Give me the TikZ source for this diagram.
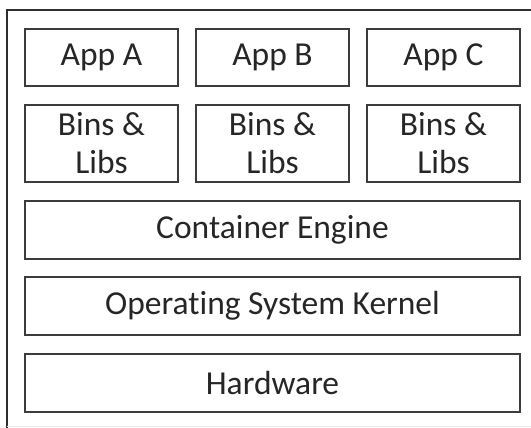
\documentclass[tikz,border=0pt]{standalone}
\usepackage{fontspec}
\setmainfont{Carlito}[Ligatures=NoCommon]
\usetikzlibrary{positioning}
\definecolor{cLinea}{HTML}{3C3C3C}
\definecolor{cTexto}{HTML}{262626}
\definecolor{cMarco}{HTML}{2E2E2E}
\definecolor{cBorde}{HTML}{E6E6E6}

\begin{document}
\begin{tikzpicture}[
    x=1pt, y=-1pt,
    font=\fontsize{33.5}{38}\selectfont,
    capa/.style={draw=cLinea, line width=2pt, text=cTexto, inner sep=0pt,
                 minimum height=57.5pt, align=center},
    apl/.style={capa, minimum width=153pt},
    libs/.style={apl, minimum height=77pt},
    base/.style={capa, minimum width=495pt},
    marco/.style={draw=cMarco, line width=1.4pt},
]
\useasboundingbox (0,0) rectangle (531,428);

% ===================== Marco =====================
\draw[marco] (531,10) -- (7,10) -- (7,428);
\draw[draw=cBorde, line width=1pt] (7,426.5) -- (531,426.5);

% ===================== Aplicaciones y bibliotecas =====================
\foreach \x/\n in {101.5/A, 272.5/B, 443.5/C} {
    \node[apl]  (app\n)  at (\x,57.5)  {App \n};
    \node[libs] (libs\n) at (\x,143.5) {Bins \&\\Libs};
}

% ===================== Capas comunes =====================
\node[base] (motor)    at (272.5,229.8) {Container Engine};
\node[base] (kernel)   at (272.5,306)   {Operating System Kernel};
\node[base] (hardware) at (272.5,383.2) {Hardware};

\end{tikzpicture}
\end{document}
